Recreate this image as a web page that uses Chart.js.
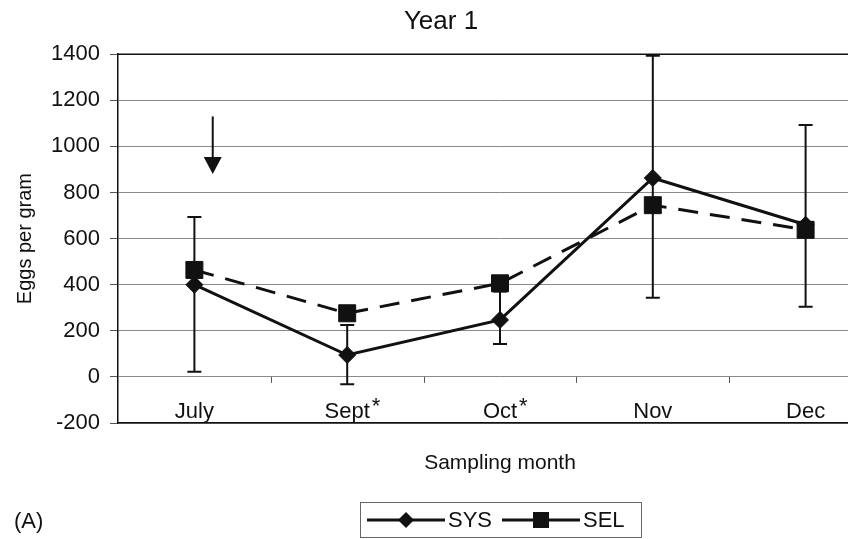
<!DOCTYPE html>
<html>
<head>
<meta charset="utf-8">
<title>Year 1 - Eggs per gram</title>
<script src="https://cdn.jsdelivr.net/npm/chart.js@4.4.1/dist/chart.umd.min.js"></script>
<style>
  html, body { margin: 0; padding: 0; background: #fff; overflow: hidden; }
  #wrap { width: 848px; height: 539px; overflow: hidden; }
  canvas { display: block; }
</style>
</head>
<body>
<div id="wrap">
  <canvas id="eggsChart" width="884" height="539"></canvas>
</div>
<script>
// chart data
const months = ['July', 'Sept', 'Oct', 'Nov', 'Dec'];
const starredMonths = ['Sept', 'Oct'];
const sysEggs = [400, 95, 247, 863, 660];
const selEggs = [464, 276, 406, 745, 638];
// error bar ends (SYS)
const sysErrLow = [22, -32, 143, 343, 304];
const sysErrHigh = [694, 225, 370, 1393, 1093];
// y axis range
const yMin = -200;
const yMax = 1400;
const yStep = 200;
// arrow marking July (category position, value from/to)
const arrowMonth = 0.12;
const arrowFrom = 1130;
const arrowTo = 880;

const FONT = "'Liberation Sans', Arial, Helvetica, sans-serif";
const INK = '#111';
Chart.defaults.font.family = FONT;
Chart.defaults.color = INK;

const decorPlugin = {
  id: 'decor',
  beforeDraw(chart) {
    const ctx = chart.ctx;
    ctx.save();
    ctx.fillStyle = '#fff';
    ctx.fillRect(0, 0, chart.width, chart.height);
    ctx.restore();
  },
  beforeDatasetsDraw(chart) {
    const { ctx, chartArea } = chart;
    const xs = chart.scales.x;
    const ys = chart.scales.y;
    ctx.save();

    // small category ticks on the zero line
    const y0 = ys.getPixelForValue(0);
    ctx.strokeStyle = '#555';
    ctx.lineWidth = 1;
    for (let i = 1; i < months.length; i++) {
      const x = Math.round(xs.getPixelForValue(i - 0.5)) + 0.5;
      ctx.beginPath();
      ctx.moveTo(x, y0);
      ctx.lineTo(x, y0 + 6);
      ctx.stroke();
    }

    // error bars
    ctx.strokeStyle = INK;
    ctx.lineWidth = 2;
    months.forEach((m, i) => {
      const x = xs.getPixelForValue(i);
      const yl = ys.getPixelForValue(sysErrLow[i]);
      const yh = ys.getPixelForValue(sysErrHigh[i]);
      ctx.beginPath();
      ctx.moveTo(x, yl);
      ctx.lineTo(x, yh);
      ctx.moveTo(x - 7, yl);
      ctx.lineTo(x + 7, yl);
      ctx.moveTo(x - 7, yh);
      ctx.lineTo(x + 7, yh);
      ctx.stroke();
    });

    // frame top / right
    ctx.lineWidth = 1.5;
    ctx.beginPath();
    ctx.moveTo(chartArea.left, chartArea.top);
    ctx.lineTo(chartArea.right, chartArea.top);
    ctx.lineTo(chartArea.right, chartArea.bottom);
    ctx.stroke();
    ctx.restore();
  },
  afterDraw(chart) {
    const { ctx } = chart;
    const xs = chart.scales.x;
    const ys = chart.scales.y;
    ctx.save();
    ctx.fillStyle = INK;
    ctx.strokeStyle = INK;

    // month labels sit above the bottom border, asterisk after some
    ctx.font = '22px ' + FONT;
    ctx.textBaseline = 'alphabetic';
    months.forEach((m, i) => {
      const x = xs.getPixelForValue(i);
      const w = ctx.measureText(m).width;
      ctx.textAlign = 'center';
      ctx.fillText(m, x, xs.top - 5);
      if (starredMonths.includes(m)) {
        ctx.textAlign = 'left';
        ctx.fillText('*', x + w / 2 + 2, xs.top - 10);
      }
    });

    // arrow
    const ax = xs.getPixelForValue(arrowMonth);
    const ay1 = ys.getPixelForValue(arrowFrom);
    const ay2 = ys.getPixelForValue(arrowTo);
    ctx.lineWidth = 2;
    ctx.beginPath();
    ctx.moveTo(ax, ay1);
    ctx.lineTo(ax, ay2 - 16);
    ctx.stroke();
    ctx.beginPath();
    ctx.moveTo(ax - 9, ay2 - 17);
    ctx.lineTo(ax + 9, ay2 - 17);
    ctx.lineTo(ax, ay2);
    ctx.closePath();
    ctx.fill();

    // legend
    const ds = chart.data.datasets;
    const lx = 360.5, ly = 502.5, lw = 281, lh = 35;
    ctx.lineWidth = 1;
    ctx.strokeStyle = '#666';
    ctx.strokeRect(lx, ly, lw, lh);
    ctx.strokeStyle = INK;
    ctx.font = '22px ' + FONT;
    ctx.textAlign = 'left';
    ctx.textBaseline = 'middle';
    const cy = ly + lh / 2;
    const items = [
      { start: 367, end: 445, text: 448 },
      { start: 502, end: 580, text: 583 }
    ];
    items.forEach((it, k) => {
      const d = ds[k];
      ctx.lineWidth = 3;
      ctx.beginPath();
      ctx.moveTo(it.start, cy);
      ctx.lineTo(it.end, cy);
      ctx.stroke();
      const mx = (it.start + it.end) / 2;
      ctx.beginPath();
      if (d.pointStyle === 'rectRot') {
        ctx.moveTo(mx, cy - 8);
        ctx.lineTo(mx + 8, cy);
        ctx.lineTo(mx, cy + 8);
        ctx.lineTo(mx - 8, cy);
        ctx.closePath();
      } else {
        ctx.rect(mx - 8, cy - 8, 16, 16);
      }
      ctx.fill();
      ctx.fillText(d.label, it.text, cy + 1);
    });

    // panel letter
    ctx.fillText('(A)', 14, 522);
    ctx.restore();
  }
};

new Chart(document.getElementById('eggsChart'), {
  type: 'line',
  data: {
    labels: months,
    datasets: [
      {
        label: 'SYS',
        data: sysEggs,
        borderColor: INK,
        backgroundColor: INK,
        borderWidth: 3,
        pointStyle: 'rectRot',
        pointRadius: 8.5,
        pointBorderWidth: 1,
        tension: 0,
        order: 2
      },
      {
        label: 'SEL',
        data: selEggs,
        borderColor: INK,
        backgroundColor: INK,
        borderWidth: 3,
        borderDash: [20, 12],
        pointStyle: 'rect',
        pointRadius: 12,
        pointBorderWidth: 1,
        tension: 0,
        order: 1
      }
    ]
  },
  options: {
    responsive: false,
    animation: false,
    layout: { autoPadding: false, padding: { top: 0, right: 2, bottom: 0, left: 0 } },
    plugins: {
      legend: { display: false },
      tooltip: { enabled: false },
      title: {
        display: true,
        text: 'Year 1',
        color: INK,
        font: { size: 26, weight: 'normal' },
        padding: { top: 6, bottom: 17 }
      }
    },
    scales: {
      x: {
        offset: true,
        grid: { display: false, offset: true },
        border: { color: INK, width: 1.5 },
        ticks: { display: false },
        title: {
          display: true,
          text: 'Sampling month',
          color: INK,
          font: { size: 21 },
          padding: { top: 0, bottom: 63 }
        },
        afterFit(scale) { scale.height = 116; }
      },
      y: {
        min: yMin,
        max: yMax,
        grid: { color: '#8a8a8a', lineWidth: 1, tickLength: 8, tickColor: '#555' },
        border: { color: INK, width: 1.5 },
        ticks: {
          stepSize: yStep,
          color: INK,
          font: { size: 22 },
          padding: 10,
          callback: v => String(v)
        },
        title: {
          display: true,
          text: 'Eggs per gram',
          color: INK,
          font: { size: 20 },
          padding: { top: 13, bottom: 0 }
        },
        afterFit(scale) { scale.width = 118; }
      }
    }
  },
  plugins: [decorPlugin]
});
</script>
</body>
</html>
